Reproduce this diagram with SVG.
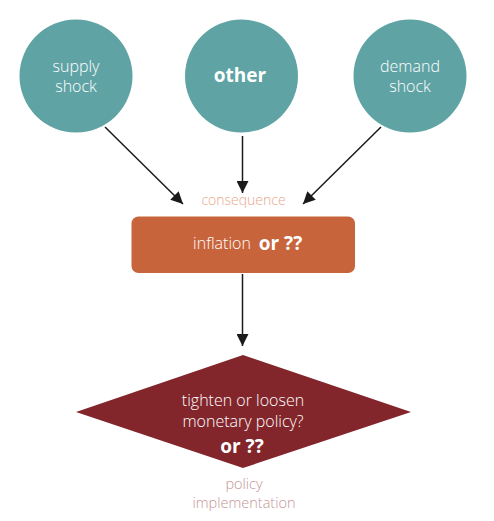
<svg xmlns="http://www.w3.org/2000/svg" width="494" height="521" viewBox="0 0 494 521">
<style>
.t{font-family:"Open Sans","Liberation Sans",sans-serif;font-weight:300;text-anchor:middle}
.w{fill:#ffffff}
.b{font-family:"Open Sans","Liberation Sans",sans-serif;font-weight:700;fill:#ffffff;text-anchor:middle}
.c{fill:#5FA3A5}
.e{stroke:#1a1a1a;stroke-width:1.5;fill:none;marker-end:url(#ah)}
</style>
<defs>
<marker id="ah" viewBox="0 0 10 10" refX="10" refY="5" markerWidth="13" markerHeight="12" markerUnits="userSpaceOnUse" orient="auto">
<path d="M0,0 L10,5 L0,10 z" fill="#1a1a1a"/>
</marker>
</defs>
<rect width="494" height="521" fill="#ffffff"/>
<g id="connectors">
<line class="e" x1="105" y1="127" x2="183" y2="204"/>
<line class="e" x1="242.5" y1="136" x2="242.5" y2="193"/>
<line class="e" x1="381" y1="127" x2="303" y2="204"/>
<line class="e" x1="242.5" y1="274" x2="242.5" y2="346"/>
</g>
<g id="supply">
<circle class="c" cx="76" cy="76" r="56.5"/>
<text class="t w" x="76" y="72" font-size="16">supply</text>
<text class="t w" x="76" y="92" font-size="16">shock</text>
</g>
<g id="other">
<circle class="c" cx="241.5" cy="76" r="56.5"/>
<text class="b" x="240" y="82" font-size="19">other</text>
</g>
<g id="demand">
<circle class="c" cx="410" cy="76" r="56.5"/>
<text class="t w" x="410" y="72" font-size="16">demand</text>
<text class="t w" x="410" y="92" font-size="16">shock</text>
</g>
<g id="consequence-label">
<text class="t" x="243.5" y="205" font-size="14" fill="#E8A88C">consequence</text>
</g>
<g id="inflation">
<rect x="131.5" y="216.5" width="223.5" height="56.5" rx="7" fill="#C8643C"/>
<text class="t w" x="222" y="249" font-size="16">inflation</text>
<text class="b" x="280.5" y="250" font-size="19">or ??</text>
</g>
<g id="policy">
<polygon points="243,355 411,412 243,468 76,412" fill="#82262C"/>
<text class="t w" x="243" y="406" font-size="16">tighten or loosen</text>
<text class="t w" x="243" y="427" font-size="16">monetary policy?</text>
<text class="b" x="242" y="453" font-size="19">or ??</text>
</g>
<g id="implementation-label">
<text class="t" x="244" y="489" font-size="14.5" fill="#C49698">policy</text>
<text class="t" x="244" y="508" font-size="14.5" fill="#C49698">implementation</text>
</g>
</svg>
